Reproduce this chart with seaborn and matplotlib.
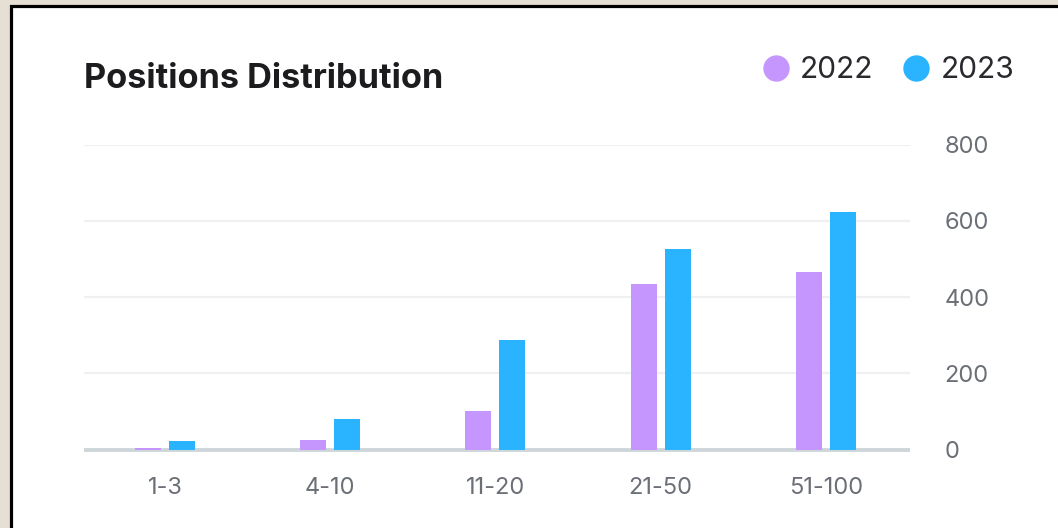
import matplotlib
matplotlib.use("Agg")
import matplotlib.pyplot as plt
from matplotlib.patches import Rectangle
from matplotlib.lines import Line2D
import seaborn as sns
import pandas as pd

categories = ["1-3", "4-10", "11-20", "21-50", "51-100"]
years = ["2022", "2023"]
values_2022 = [5, 24, 101, 435, 465]
values_2023 = [22, 79, 287, 527, 623]
y_ticks = [0, 200, 400, 600, 800]

colors = {"2022": "#c597fe", "2023": "#2ab3fe"}

df = pd.DataFrame({
    "range": categories * 2,
    "year": ["2022"] * len(categories) + ["2023"] * len(categories),
    "value": values_2022 + values_2023,
})

sns.set_theme(style="white")
plt.rcParams["font.family"] = ["Inter", "DejaVu Sans"]

W, H = 1058, 528
fig = plt.figure(figsize=(W / 100, H / 100), dpi=100)
fig.patch.set_facecolor("#e6dfd3")

card = Rectangle((10.5 / W, -0.1), 1.2, (H - 5.5) / H + 0.1,
                 transform=fig.transFigure, facecolor="white",
                 edgecolor="black", linewidth=2.3, zorder=-10)
fig.patches.append(card)

ax = fig.add_axes([84 / W, (H - 449.5) / H, (910 - 84) / W, (449.5 - 144.5) / H])
ax.set_zorder(5)
ax.set_facecolor("none")

sns.barplot(data=df, x="range", y="value", hue="year", order=categories,
            hue_order=years, palette=colors, width=0.411, gap=0.235,
            saturation=1, linewidth=0, edgecolor="none",
            ax=ax, legend=False, zorder=3)

ax.set_xlim(-0.49, 4.51)
ax.set_ylim(0, 800)
ax.set_yticks(y_ticks)
ax.set_yticklabels([str(t) for t in y_ticks])
ax.yaxis.tick_right()
for lbl in ax.get_yticklabels():
    lbl.set_horizontalalignment("left")
ax.tick_params(axis="y", length=0, pad=25, labelsize=17, labelcolor="#6b6f76")
ax.tick_params(axis="x", length=0, pad=20, labelsize=17, labelcolor="#6b6f76")
ax.set_xlabel("")
ax.set_ylabel("")
for s in ax.spines.values():
    s.set_visible(False)

for t in y_ticks[1:]:
    ax.axhline(t, color="#eef0f2", linewidth=1.6, zorder=1)
ax.axhline(0, color="#cfd6da", linewidth=2.8, zorder=2,
           solid_capstyle="butt", clip_on=False)

fig.text(84 / W, 1 - 79 / H, "Positions Distribution", fontsize=24.7,
         fontweight="bold", color="#1c1c1e", ha="left", va="center")

handles = [Line2D([], [], marker="o", linestyle="", markersize=19,
                  markerfacecolor=colors[y], markeredgecolor="none") for y in years]
fig.legend(handles, years, loc="center right",
           bbox_to_anchor=(1041 / W, 1 - 70 / H), ncol=2, frameon=False,
           fontsize=21.5, handletextpad=0.3, columnspacing=0.95,
           handlelength=1.0, labelcolor="#2a2a2e")

fig.savefig("out.png", dpi=100, facecolor=fig.get_facecolor())
